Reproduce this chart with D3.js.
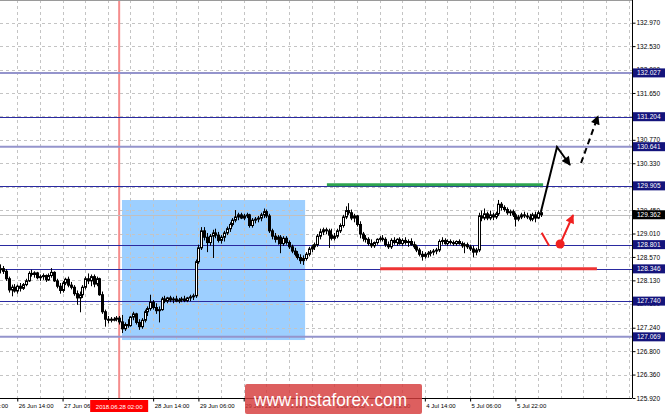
<!DOCTYPE html>
<html>
<head>
<meta charset="utf-8">
<script src="https://cdn.jsdelivr.net/npm/d3@7"></script>
<style>
  body { margin: 0; background: #fff; }
  svg { display: block; font-family: "Liberation Sans", Arial, sans-serif; }
</style>
</head>
<body>
<div id="chart"></div>
<script>
// H1 candles [open, high, low, close], one array per trading day
const jun26 = [
  [128.33,128.43,128.26,128.35],[128.35,128.40,128.25,128.30],[128.30,128.34,128.12,128.16],[128.16,128.20,127.90,127.95],
  [127.95,128.05,127.83,128.00],[128.00,128.06,127.90,127.93],[127.93,128.05,127.88,128.02],[128.02,128.08,127.92,127.98],
  [127.98,128.08,127.95,128.05],[128.05,128.16,128.02,128.12],[128.12,128.30,128.10,128.26],[128.26,128.33,128.20,128.24],
  [128.24,128.30,128.18,128.27],[128.27,128.29,128.15,128.18],[128.18,128.24,128.12,128.20],[128.20,128.26,128.14,128.22]
];
const jun27 = [
  [128.22,128.24,128.10,128.14],[128.14,128.26,128.12,128.22],[128.22,128.36,128.18,128.28],[128.28,128.30,128.10,128.12],
  [128.12,128.16,127.98,128.02],[128.02,128.08,127.88,127.94],[127.94,128.12,127.90,128.08],[128.08,128.18,128.04,128.15],
  [128.15,128.20,128.00,128.04],[128.04,128.10,127.96,128.00],[128.00,128.04,127.84,127.88],[127.88,127.94,127.67,127.80],
  [127.80,127.92,127.53,127.86],[127.86,128.04,127.80,128.00],[128.00,128.20,127.96,128.16],[128.16,128.26,128.06,128.12],
  [128.12,128.24,128.02,128.20],[128.20,128.24,128.00,128.06],[128.06,128.20,128.02,128.16],[128.16,128.18,127.84,127.86],
  [127.86,127.92,127.50,127.54],[127.54,127.58,127.26,127.40],[127.40,127.46,127.32,127.38],[127.38,127.44,127.34,127.40]
];
const jun28 = [
  [127.40,127.44,127.36,127.40],[127.40,127.46,127.36,127.42],[127.42,127.46,127.30,127.35],[127.35,127.48,127.14,127.22],
  [127.22,127.34,127.18,127.30],[127.30,127.40,127.24,127.28],[127.28,127.46,127.26,127.44],[127.44,127.54,127.38,127.50],
  [127.50,127.52,127.30,127.34],[127.34,127.40,127.20,127.26],[127.26,127.42,127.22,127.38],[127.38,127.58,127.34,127.54],
  [127.54,127.64,127.46,127.60],[127.60,127.86,127.56,127.72],[127.72,127.76,127.58,127.62],[127.62,127.70,127.50,127.56],
  [127.56,127.64,127.34,127.58],[127.58,127.82,127.56,127.78],[127.78,127.84,127.70,127.74],[127.74,127.82,127.70,127.80],
  [127.80,127.84,127.72,127.76],[127.76,127.82,127.70,127.78],[127.78,127.84,127.72,127.74],[127.74,127.80,127.70,127.76]
];
const jun29 = [
  [127.76,127.82,127.72,127.78],[127.78,127.84,127.72,127.75],[127.75,127.82,127.72,127.80],[127.80,127.86,127.74,127.82],
  [127.82,127.88,127.76,127.84],[127.84,128.52,127.80,128.48],[128.48,128.80,128.44,128.74],[128.74,129.13,128.70,129.06],
  [129.06,129.13,128.88,128.94],[128.94,129.02,128.66,128.84],[128.84,129.00,128.78,128.96],[128.96,129.08,128.55,129.02],
  [129.02,129.10,128.92,128.98],[128.98,129.04,128.84,128.88],[128.88,128.98,128.82,128.94],[128.94,129.06,128.86,129.02],
  [129.02,129.14,128.98,129.10],[129.10,129.22,129.04,129.18],[129.18,129.30,129.14,129.26],[129.26,129.45,129.22,129.32],
  [129.32,129.40,129.26,129.36],[129.36,129.40,129.28,129.30],[129.30,129.38,129.26,129.34],[129.34,129.40,129.30,129.36]
];
const jul02 = [
  [129.36,129.38,129.12,129.16],[129.16,129.30,129.12,129.26],[129.26,129.32,129.20,129.28],[129.28,129.34,129.22,129.30],
  [129.30,129.40,129.24,129.36],[129.36,129.48,129.30,129.42],[129.42,129.46,129.30,129.34],[129.34,129.38,129.02,129.06],
  [129.06,129.10,128.90,128.96],[128.96,129.02,128.84,128.90],[128.90,128.98,128.80,128.94],[128.94,128.98,128.64,128.82],
  [128.82,128.96,128.78,128.92],[128.92,128.96,128.80,128.84],[128.84,128.88,128.72,128.76],[128.76,128.80,128.64,128.68],
  [128.68,128.74,128.58,128.62],[128.62,128.68,128.52,128.56],[128.56,128.62,128.44,128.50],[128.50,128.60,128.42,128.54],
  [128.54,128.66,128.50,128.62],[128.62,128.76,128.58,128.72],[128.72,128.80,128.66,128.76],[128.76,128.84,128.70,128.80]
];
const jul03 = [
  [128.80,129.00,128.76,128.96],[128.96,129.10,128.90,129.04],[129.04,129.12,128.98,129.08],[129.08,129.12,129.00,129.06],
  [129.06,129.10,128.74,128.98],[128.98,129.10,128.88,128.92],[128.92,129.02,128.88,128.96],[128.96,129.10,128.92,129.06],
  [129.06,129.20,129.02,129.16],[129.16,129.36,129.12,129.32],[129.32,129.52,129.28,129.44],[129.44,129.58,129.36,129.40],
  [129.40,129.46,129.26,129.30],[129.30,129.38,129.22,129.34],[129.34,129.36,129.14,129.18],[129.18,129.24,128.92,129.00],
  [129.00,129.04,128.86,128.92],[128.92,128.98,128.84,128.90],[128.90,128.94,128.78,128.82],[128.82,128.90,128.74,128.78],
  [128.78,128.86,128.74,128.84],[128.84,128.92,128.80,128.90],[128.90,128.96,128.86,128.92],[128.92,128.98,128.86,128.90]
];
const jul04 = [
  [128.90,128.94,128.76,128.80],[128.80,128.86,128.72,128.76],[128.76,128.92,128.72,128.88],[128.88,128.94,128.80,128.84],
  [128.84,128.92,128.78,128.90],[128.90,128.94,128.80,128.82],[128.82,128.92,128.78,128.88],[128.88,128.94,128.80,128.84],
  [128.84,128.90,128.76,128.86],[128.86,128.92,128.78,128.80],[128.80,128.86,128.72,128.76],[128.76,128.80,128.66,128.70],
  [128.70,128.74,128.58,128.62],[128.62,128.68,128.50,128.58],[128.58,128.66,128.54,128.62],[128.62,128.68,128.56,128.64],
  [128.64,128.70,128.58,128.66],[128.66,128.72,128.60,128.68],[128.68,128.74,128.62,128.70],[128.70,128.90,128.66,128.86],
  [128.86,128.94,128.80,128.88],[128.88,128.92,128.80,128.82],[128.82,128.90,128.78,128.86],[128.86,128.90,128.80,128.84]
];
const jul05 = [
  [128.84,128.88,128.78,128.82],[128.82,128.88,128.78,128.86],[128.86,128.90,128.80,128.82],[128.82,128.86,128.74,128.78],
  [128.78,128.84,128.64,128.80],[128.80,128.84,128.72,128.76],[128.76,128.80,128.68,128.72],[128.72,128.78,128.56,128.66],
  [128.66,128.74,128.60,128.70],[128.70,129.40,128.66,129.34],[129.34,129.44,129.24,129.30],[129.30,129.48,129.26,129.38],
  [129.38,129.42,129.26,129.30],[129.30,129.44,129.26,129.36],[129.36,129.40,129.26,129.32],[129.32,129.42,129.28,129.38],
  [129.38,129.64,129.34,129.56],[129.56,129.60,129.44,129.50],[129.50,129.54,129.42,129.46],[129.46,129.50,129.36,129.40],
  [129.40,129.46,129.34,129.42],[129.42,129.46,129.32,129.36],[129.36,129.40,129.14,129.28],[129.28,129.36,129.24,129.32]
];
const jul06 = [
  [129.32,129.40,129.28,129.36],[129.36,129.42,129.30,129.34],[129.34,129.40,129.28,129.32],[129.32,129.38,129.24,129.28],
  [129.28,129.40,129.24,129.36],[129.36,129.42,129.22,129.30],[129.30,129.44,129.28,129.40],[129.40,129.44,129.32,129.362]
];

// price scale labels
const priceTicks = ["132.970","132.530","132.090","131.650","131.210","130.770","130.330","129.890",
                    "129.450","129.010","128.570","128.130","127.690","127.240","126.800","126.360","125.920"];
// time labels (bar index from 26 Jun 08:00)
const timeBars   = [-10, 6, 22, 38, 54, 70, 86, 102, 118, 134, 150, 166, 182];
const timeLabels = ["25 Jun 22:00","26 Jun 14:00","27 Jun 06:00","27 Jun 22:00","28 Jun 14:00","29 Jun 06:00",
                    "29 Jun 22:00","2 Jul 14:00","3 Jul 06:00","3 Jul 22:00","4 Jul 14:00","5 Jul 06:00","5 Jul 22:00"];

// levels
const levelsDark  = [131.204, 129.905, 128.801, 128.346, 127.740];
const levelsLight = [132.027, 130.641, 127.069];
const lastPrice = 129.362;

// objects: bar index / price
const markerBar = 42, markerLabel = "2018.06.28 02:00";
const zone = [43, 107.7, 129.639, 127.009];
const greenLine = [115.4, 191.8, 129.905];
const redLine = [134.2, 210.8, 128.346];
const upArrow = [[191, 129.414], [196.7, 130.635], [201.3, 130.297]];
const dashArrow = [[205.2, 130.334], [211.2, 131.217]];
const redTick = [[191.3, 129.025], [193.9, 128.781]];
const redDot = [197.8, 128.813];
const redArrow = [[197.8, 128.813], [202.4, 129.357]];

const W = 665, H = 415, R = 632, B = 398;

const bars = [jun26, jun27, jun28, jun29, jul02, jul03, jul04, jul05, jul06].flat()
  .map((d, i) => ({i: i, o: d[0], h: d[1], l: d[2], c: d[3]}));

const x = d3.scaleLinear().domain([0, 223.2]).range([0.3, R]);
const y = d3.scaleLinear().domain([125.92, 132.97]).range([B, 22.7]);

const svg = d3.select("#chart").append("svg").attr("width", W).attr("height", H);

const defs = svg.append("defs");
defs.append("clipPath").attr("id", "clip")
  .append("rect").attr("x", 0).attr("y", 0).attr("width", R).attr("height", B);
function head(id, col) {
  defs.append("marker").attr("id", id)
    .attr("viewBox", "0 0 10 10").attr("refX", 9).attr("refY", 5)
    .attr("markerWidth", 11).attr("markerHeight", 9)
    .attr("markerUnits", "userSpaceOnUse").attr("orient", "auto")
    .append("path").attr("d", "M0,0 L10,5 L0,10 Z").attr("fill", col);
}
head("hb", "#000");
head("hr", "#f02020");

const g = svg.append("g").attr("clip-path", "url(#clip)");

// blue zone
g.append("rect")
  .attr("x", x(zone[0])).attr("y", y(zone[2]))
  .attr("width", x(zone[1]) - x(zone[0])).attr("height", y(zone[3]) - y(zone[2]))
  .attr("fill", "#9dcfff");

// grid
g.selectAll(".gh").data(priceTicks).enter().append("line")
  .attr("x1", 0).attr("x2", R)
  .attr("y1", d => Math.round(y(+d)) + 0.5).attr("y2", d => Math.round(y(+d)) + 0.5)
  .attr("stroke", "#c4c4c4").attr("stroke-dasharray", "3,3");
g.selectAll(".gv").data(d3.range(-2, 224, 8)).enter().append("line")
  .attr("y1", 0).attr("y2", B)
  .attr("x1", d => Math.round(x(d)) + 0.5).attr("x2", d => Math.round(x(d)) + 0.5)
  .attr("stroke", "#c4c4c4").attr("stroke-dasharray", "3,3");

// date marker line
g.append("line")
  .attr("x1", x(markerBar)).attr("x2", x(markerBar)).attr("y1", 0).attr("y2", B)
  .attr("stroke", "#f58c8c").attr("stroke-width", 2);

// levels
g.append("line").attr("x1", 0).attr("x2", R)
  .attr("y1", Math.round(y(lastPrice)) + 0.5).attr("y2", Math.round(y(lastPrice)) + 0.5)
  .attr("stroke", "#c0c0c0");
g.selectAll(".ll").data(levelsLight).enter().append("line")
  .attr("x1", 0).attr("x2", R).attr("y1", d => y(d)).attr("y2", d => y(d))
  .attr("stroke", "#9494cc").attr("stroke-width", 2);
g.selectAll(".ld").data(levelsDark).enter().append("line")
  .attr("x1", 0).attr("x2", R)
  .attr("y1", d => Math.round(y(d)) + 0.5).attr("y2", d => Math.round(y(d)) + 0.5)
  .attr("stroke", "#2a2aa0");

// green / red horizontal segments
g.append("line").attr("x1", x(greenLine[0])).attr("x2", x(greenLine[1]))
  .attr("y1", y(greenLine[2]) - 1).attr("y2", y(greenLine[2]) - 1)
  .attr("stroke", "#2ea44f").attr("stroke-width", 3);
g.append("line").attr("x1", x(redLine[0])).attr("x2", x(redLine[1]))
  .attr("y1", y(redLine[2])).attr("y2", y(redLine[2]))
  .attr("stroke", "#ee3434").attr("stroke-width", 3);

// candles: black bear bodies, white bull bodies with black border
const cg = g.append("g");
cg.selectAll(".wick").data(bars).enter().append("line")
  .attr("x1", d => Math.round(x(d.i)) + 0.5).attr("x2", d => Math.round(x(d.i)) + 0.5)
  .attr("y1", d => y(d.h)).attr("y2", d => y(d.l))
  .attr("stroke", "#000");
cg.selectAll(".body").data(bars).enter().append("rect")
  .attr("x", d => Math.round(x(d.i)) - 0.5)
  .attr("y", d => y(Math.max(d.o, d.c)))
  .attr("width", 2)
  .attr("height", d => Math.max(1, Math.abs(y(d.o) - y(d.c))))
  .attr("fill", d => d.c >= d.o ? "#fff" : "#000")
  .attr("stroke", "#000").attr("stroke-width", 1);

// arrows
const ln = d3.line().x(d => x(d[0])).y(d => y(d[1]));
g.append("path").attr("d", ln(upArrow)).attr("fill", "none")
  .attr("stroke", "#000").attr("stroke-width", 2).attr("marker-end", "url(#hb)");
g.append("path").attr("d", ln(dashArrow)).attr("fill", "none")
  .attr("stroke", "#000").attr("stroke-width", 2).attr("stroke-dasharray", "6,4")
  .attr("marker-end", "url(#hb)");
g.append("path").attr("d", ln(redTick)).attr("fill", "none")
  .attr("stroke", "#f02020").attr("stroke-width", 2);
g.append("path").attr("d", ln(redArrow)).attr("fill", "none")
  .attr("stroke", "#f02020").attr("stroke-width", 2).attr("marker-end", "url(#hr)");
g.append("circle").attr("cx", x(redDot[0])).attr("cy", y(redDot[1])).attr("r", 4.5)
  .attr("fill", "#f02020");

// frame
svg.append("line").attr("x1", 0).attr("x2", R).attr("y1", 0.5).attr("y2", 0.5).attr("stroke", "#9a9a9a");

// right price axis
const ay = svg.append("g").attr("transform", `translate(${R + 0.5},0)`)
  .call(d3.axisRight(y).tickValues(priceTicks.map(Number)).tickSize(3).tickSizeOuter(0)
    .tickFormat((d, i) => priceTicks[i]));
ay.select(".domain").attr("d", `M0,0V${B}`).attr("stroke", "#000");
ay.selectAll("text").attr("font-size", 6.5).attr("font-family", "Liberation Sans, Arial").attr("fill", "#000").attr("x", 4);

// boxed price labels
const boxed = levelsLight.concat(levelsDark).map(v => ({v: v, fill: "#14147c"}))
  .concat([{v: lastPrice, fill: "#000"}]);
const bl = svg.append("g").selectAll("g").data(boxed).enter().append("g")
  .attr("transform", d => `translate(${R + 1},${y(d.v)})`);
bl.append("rect").attr("x", 0).attr("y", -4.5).attr("width", W - R).attr("height", 9).attr("fill", d => d.fill);
bl.append("text").attr("x", 4).attr("dy", "0.34em").attr("font-size", 6.5).attr("fill", "#fff")
  .text(d => d.v.toFixed(3));

// bottom time axis
const ax = svg.append("g").attr("transform", `translate(0,${B + 0.5})`)
  .call(d3.axisBottom(x).tickValues(timeBars).tickSize(3).tickSizeOuter(0)
    .tickFormat((d, i) => timeLabels[i]));
ax.select(".domain").attr("d", `M0,0H${R}`).attr("stroke", "#000");
ax.selectAll("text").attr("font-size", 6).attr("font-family", "Liberation Sans, Arial")
  .attr("fill", "#000").attr("text-anchor", "start").attr("x", 1).attr("y", 5);

// red time marker label
const mx = x(markerBar);
svg.append("rect").attr("x", mx - 29).attr("y", B + 2).attr("width", 58).attr("height", 12).attr("fill", "#ff0000");
svg.append("text").attr("x", mx).attr("y", B + 11).attr("text-anchor", "middle")
  .attr("font-size", 6).attr("fill", "#fff").text(markerLabel);

// watermark
svg.append("rect").attr("x", 245).attr("y", 384).attr("width", 177).attr("height", 30).attr("rx", 2)
  .attr("fill", "#d63c3c").attr("opacity", 0.82);
svg.append("text").attr("x", 254).attr("y", 406).attr("font-size", 19)
  .attr("textLength", 153).attr("lengthAdjust", "spacingAndGlyphs")
  .attr("fill", "#fff").text("www.instaforex.com");
</script>
</body>
</html>
